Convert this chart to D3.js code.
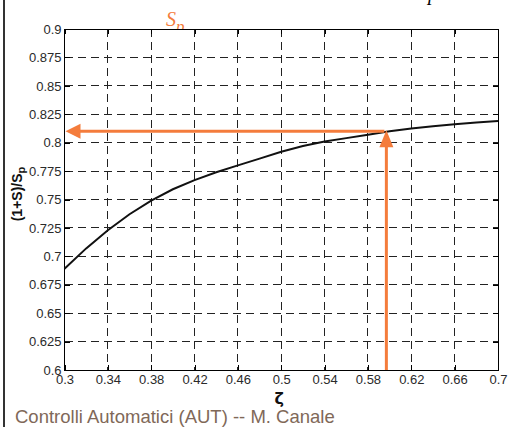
<!DOCTYPE html>
<html>
<head>
<meta charset="utf-8">
<script src="https://cdn.jsdelivr.net/npm/d3@7"></script>
<style>
body { margin: 0; background: #fff; }
svg { display: block; }
</style>
</head>
<body>
<div id="chart"></div>
<script>
// curve (1+S)/Sp vs zeta
var zeta = [0.30, 0.32, 0.34, 0.36, 0.38, 0.40, 0.42, 0.44, 0.46, 0.48, 0.50,
            0.52, 0.54, 0.56, 0.58, 0.60, 0.62, 0.64, 0.66, 0.68, 0.70];
var ratio = [0.689, 0.707, 0.723, 0.737, 0.749, 0.759, 0.767, 0.774, 0.780, 0.786, 0.792,
             0.797, 0.801, 0.804, 0.807, 0.810, 0.8125, 0.8145, 0.8163, 0.8178, 0.819];
var xTicks = [0.3, 0.34, 0.38, 0.42, 0.46, 0.5, 0.54, 0.58, 0.62, 0.66, 0.7];
var yTicks = [0.6, 0.625, 0.65, 0.675, 0.7, 0.725, 0.75, 0.775, 0.8, 0.825, 0.85, 0.875, 0.9];
var zetaMark = 0.597;
var ratioMark = 0.81;

var svgwidth = 508;
var svgheight = 427;
var margin = {top: 29, left: 64.5, right: 10, bottom: 57};
var width = svgwidth - margin.left - margin.right;
var height = svgheight - margin.top - margin.bottom;
var orange = "#f47c3c";

var svg = d3.select("#chart").append("svg").attr("width", svgwidth).attr("height", svgheight);

// slide border on the left
svg.append("line").attr("x1", 4).attr("x2", 4).attr("y1", 0).attr("y2", svgheight)
    .attr("stroke", "#333").attr("stroke-width", 2);

// bits of the slide formula peeking out above the plot
var sp = svg.append("text").attr("x", 166).attr("y", 26)
    .style("font-family", "'Liberation Serif', serif").style("font-style", "italic")
    .style("font-size", "20px").attr("fill", orange).text("S");
sp.append("tspan").attr("dy", 6).style("font-size", "17px").text("p");
svg.append("text").attr("x", 428).attr("y", 0)
    .style("font-family", "'Liberation Serif', serif").style("font-style", "italic")
    .style("font-size", "20px").attr("fill", "#000").text("p");

var chartGroup = svg.append("g").attr("transform", "translate(" + margin.left + "," + margin.top + ")");
chartGroup.append("rect").attr("width", width).attr("height", height).attr("fill", "#fff");

var x = d3.scaleLinear().domain([0.3, 0.7]).range([0, width]);
var y = d3.scaleLinear().domain([0.6, 0.9]).range([height, 0]);

// dashed grid
chartGroup.append("g").selectAll("line").data(xTicks).enter().append("line")
    .attr("x1", d => x(d)).attr("x2", d => x(d)).attr("y1", 0).attr("y2", height)
    .attr("stroke", "#222").attr("stroke-dasharray", "8,5").attr("shape-rendering", "crispEdges");
chartGroup.append("g").selectAll("line").data(yTicks).enter().append("line")
    .attr("x1", 0).attr("x2", width).attr("y1", d => y(d)).attr("y2", d => y(d))
    .attr("stroke", "#222").attr("stroke-dasharray", "8,5").attr("shape-rendering", "crispEdges");

// axes, ticks pointing inwards like matlab
var bottomAxis = d3.axisBottom(x).tickValues(xTicks).tickFormat(d => String(d))
    .tickSizeInner(-5).tickSizeOuter(0).tickPadding(5);
var leftAxis = d3.axisLeft(y).tickValues(yTicks).tickFormat(d => String(d))
    .tickSizeInner(-5).tickSizeOuter(0).tickPadding(3);
var topAxis = d3.axisTop(x).tickValues(xTicks).tickFormat("").tickSizeInner(-5).tickSizeOuter(0);
var rightAxis = d3.axisRight(y).tickValues(yTicks).tickFormat("").tickSizeInner(-5).tickSizeOuter(0);

chartGroup.append("g").attr("class", "axis").attr("transform", "translate(0," + height + ")").call(bottomAxis);
chartGroup.append("g").attr("class", "axis").call(leftAxis);
chartGroup.append("g").attr("class", "axis").call(topAxis);
chartGroup.append("g").attr("class", "axis").attr("transform", "translate(" + width + ",0)").call(rightAxis);

chartGroup.selectAll(".axis .domain").remove();
chartGroup.selectAll(".axis line").attr("stroke", "#000").attr("shape-rendering", "crispEdges");
chartGroup.selectAll(".axis text").attr("fill", "#2a2a2a")
    .style("font-family", "'Liberation Sans', Arial, sans-serif").style("font-size", "13px");

chartGroup.append("rect").attr("width", width).attr("height", height)
    .attr("fill", "none").attr("stroke", "#000").attr("shape-rendering", "crispEdges");

// the curve
var line = d3.line().x(d => x(d[0])).y(d => y(d[1]));
chartGroup.append("path").datum(d3.zip(zeta, ratio))
    .attr("d", line).attr("fill", "none").attr("stroke", "#111").attr("stroke-width", 2);

// orange arrows reading the value off the curve
var hx = x(zetaMark), hy = y(ratioMark);
chartGroup.append("line").attr("x1", hx - 2).attr("x2", x(0.3) + 14).attr("y1", hy).attr("y2", hy)
    .attr("stroke", orange).attr("stroke-width", 3);
chartGroup.append("path")
    .attr("d", "M" + (x(0.3) + 1) + "," + hy + "L" + (x(0.3) + 16) + "," + (hy - 7.5) + "L" + (x(0.3) + 16) + "," + (hy + 7.5) + "Z")
    .attr("fill", orange);
chartGroup.append("line").attr("x1", hx).attr("x2", hx).attr("y1", height).attr("y2", hy + 14)
    .attr("stroke", orange).attr("stroke-width", 3);
chartGroup.append("path")
    .attr("d", "M" + hx + "," + (hy - 1) + "L" + (hx - 7) + "," + (hy + 16) + "L" + (hx + 7) + "," + (hy + 16) + "Z")
    .attr("fill", orange);

// axis titles
var yl = svg.append("text").attr("transform", "translate(21.5," + 194 + ") rotate(-90)")
    .attr("text-anchor", "middle")
    .style("font-family", "'Liberation Sans', Arial, sans-serif").style("font-weight", "bold")
    .style("font-size", "14px").attr("fill", "#111").text("(1+S)/S");
yl.append("tspan").attr("dy", 3).style("font-size", "11px").text("p");

svg.append("text").attr("x", margin.left + width / 2 - 2).attr("y", 404).attr("text-anchor", "middle")
    .style("font-family", "'DejaVu Sans', sans-serif").style("font-weight", "bold")
    .style("font-size", "16px").attr("fill", "#111").text("ζ");

svg.append("text").attr("x", 15).attr("y", 423)
    .style("font-family", "'Liberation Sans', Arial, sans-serif").style("font-size", "18.5px")
    .attr("fill", "#806858").text("Controlli Automatici (AUT) -- M. Canale");
</script>
</body>
</html>
